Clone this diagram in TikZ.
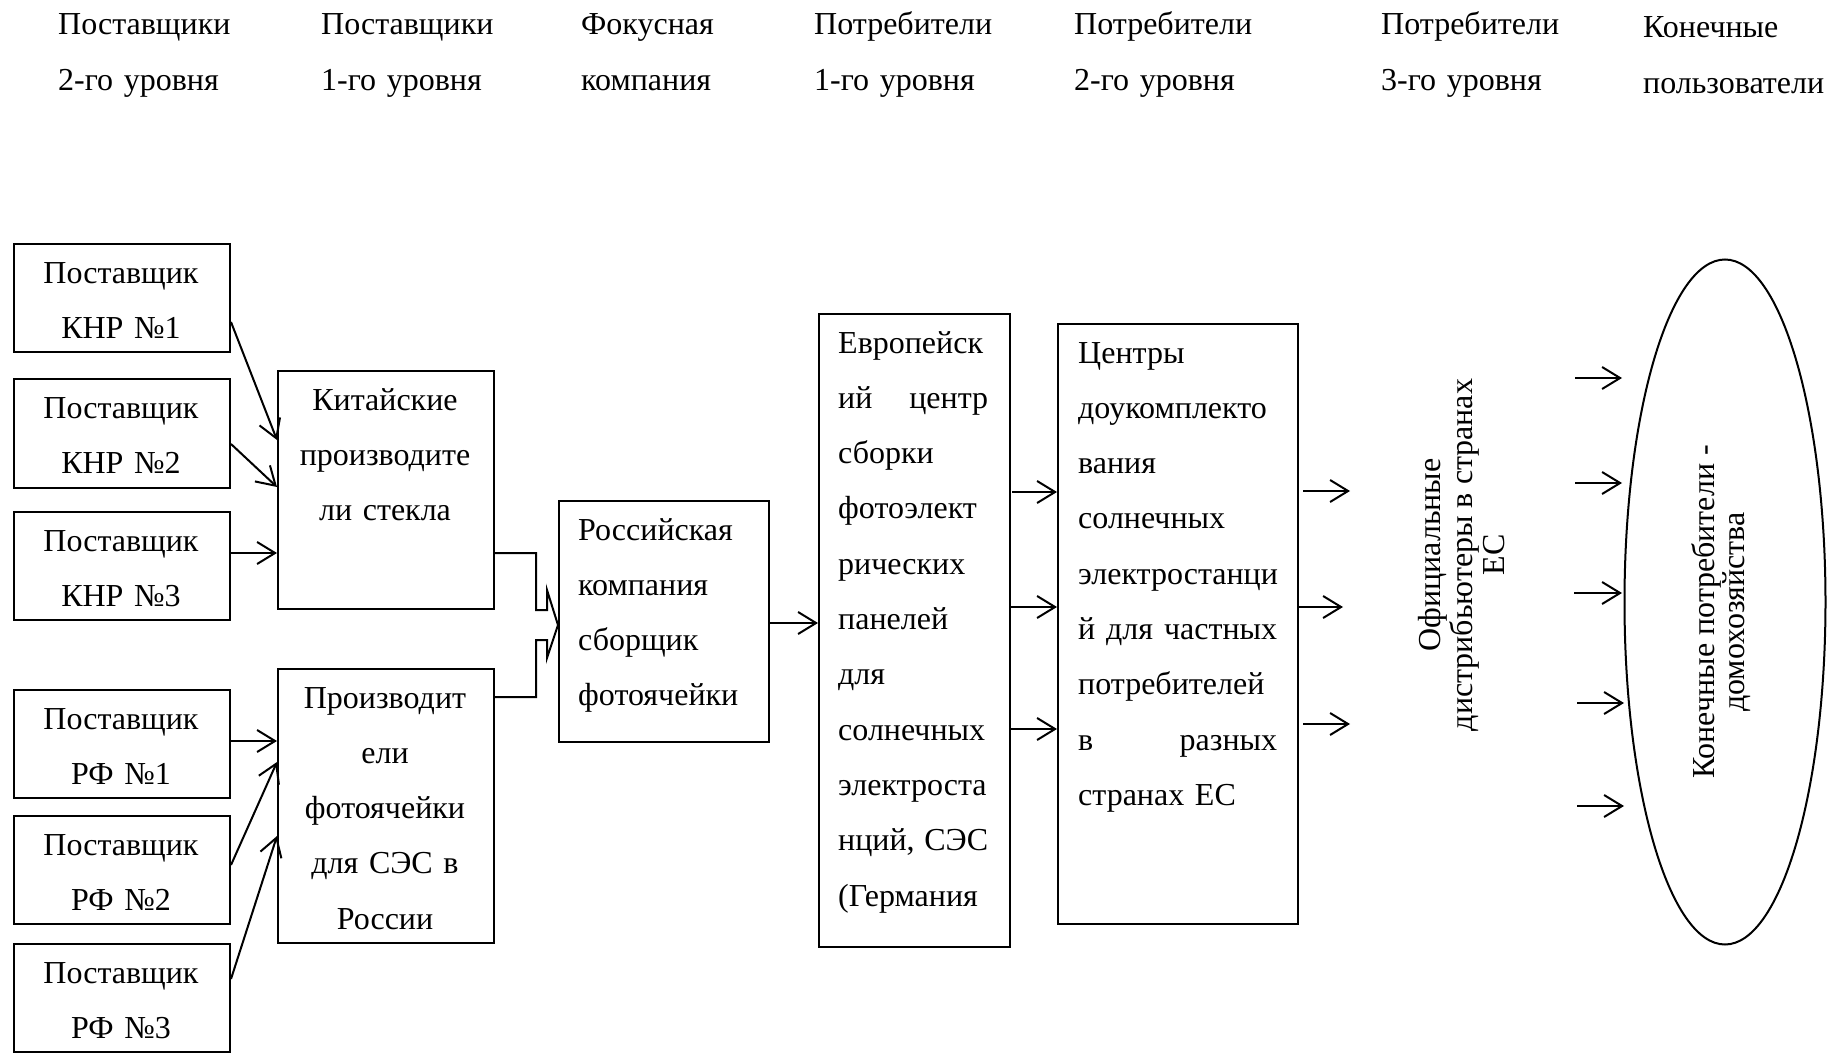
\documentclass[tikz,border=0pt]{standalone}
\usepackage{fontspec}
\setmainfont{Liberation Serif}
\usetikzlibrary{arrows.meta,shapes.geometric}
\newcommand\boxfnt{\fontsize{32}{55.3}\selectfont}
\newcommand\rotfnt{\fontsize{32}{32}\selectfont}
\newcommand\ellfnt{\fontsize{32}{30}\selectfont}
\tikzset{
  box/.style={draw, line width=2pt, inner sep=0pt, anchor=north west},
  txt/.style={inner sep=0pt, font=\boxfnt, anchor=base},
  ctxt/.style={txt, text width=216pt, align=center},
  hdr/.style={txt, anchor=base west, text width=240pt, align=left},
  rtxt/.style={inner sep=0pt, rotate=90, align=center},
  arr/.style={line width=2pt, -{Straight Barb[length=18pt,width=22pt]}},
  ln/.style={line width=2pt},
}
\begin{document}
\begin{tikzpicture}[x=1pt,y=-1pt]
\fill[white] (0,0) rectangle (1832,1057);
\useasboundingbox (0,0) rectangle (1832,1057);

% headers
\node[hdr] (h1) at (58,35) {Поставщики\\2-го уровня};
\node[hdr] (h2) at (321,35) {Поставщики\\1-го уровня};
\node[hdr] (h3) at (581,35) {Фокусная\\компания};
\node[hdr] (h4) at (814,35) {Потребители\\1-го уровня};
\node[hdr] (h5) at (1074,35) {Потребители\\2-го уровня};
\node[hdr] (h6) at (1381,35) {Потребители\\3-го уровня};
\node[hdr, text width=185pt] (h7) at (1643,38) {Конечные\\пользователи};

% supplier boxes
\node[box, minimum width=216pt, minimum height=108pt] (knr1) at (13,243) {};
\node[box, minimum width=216pt, minimum height=109pt] (knr2) at (13,378) {};
\node[box, minimum width=216pt, minimum height=108pt] (knr3) at (13,511) {};
\node[box, minimum width=216pt, minimum height=108pt] (rf1) at (13,689) {};
\node[box, minimum width=216pt, minimum height=108pt] (rf2) at (13,815) {};
\node[box, minimum width=216pt, minimum height=108pt] (rf3) at (13,943) {};
\node[ctxt] (knr1t) at (121,283) {Поставщик\\КНР №1};
\node[ctxt] (knr2t) at (121,418) {Поставщик\\КНР №2};
\node[ctxt] (knr3t) at (121,551) {Поставщик\\КНР №3};
\node[ctxt] (rf1t) at (121,729) {Поставщик\\РФ №1};
\node[ctxt] (rf2t) at (121,855) {Поставщик\\РФ №2};
\node[ctxt] (rf3t) at (121,983) {Поставщик\\РФ №3};

% level 1 suppliers
\node[box, minimum width=216pt, minimum height=238pt] (kit) at (277,370) {};
\node[ctxt] (kitt) at (385,410) {Китайские\\производите\\ли стекла};
\node[box, minimum width=216pt, minimum height=274pt] (proiz) at (277,668) {};
\node[ctxt] (proizt) at (385,708) {Производит\\ели\\фотоячейки\\для СЭС в\\России};

% focal company
\node[box, minimum width=210pt, minimum height=241pt] (ros) at (558,500) {};
\node[txt, anchor=base west, text width=180pt, align=left] (rost) at (578,540) {Российская\\компания\\сборщик\\фотоячейки};

% consumers 1
\node[box, minimum width=191pt, minimum height=633pt] (evro) at (818,313) {};
\node[txt, anchor=base west, text width=150pt, align=left] (evrot) at (838,353)
  {Европейск\\ий\hfill центр\\сборки\\фотоэлект\\рических\\панелей\\для\\солнечных\\электроста\\нций,\hfill СЭС\\(Германия};

% consumers 2
\node[box, minimum width=240pt, minimum height=600pt] (centry) at (1057,323) {};
\node[txt, anchor=base west, text width=199pt, align=left] (centryt) at (1078,363)
  {Центры\\доукомплекто\\вания\\солнечных\\электростанци\\й\hfill для\hfill частных\\потребителей\\в\hfill разных\\странах ЕС};

% consumers 3
\node[rtxt, font=\rotfnt] (dist) at (1462,555) {Официальные\\дистрибьютеры в странах\\ЕС};

% end users
\node[draw, ellipse, line width=2pt, inner sep=0pt, minimum width=201pt, minimum height=685pt] (endu) at (1725,602) {};
\node[rtxt, font=\ellfnt] (endt) at (1721,612) {Конечные потребители -\\домохозяйства};

% arrows suppliers -> level 1
\coordinate (a1) at (229,322); \coordinate (b1) at (277,440);
\coordinate (a2) at (229,444); \coordinate (b2) at (277,487);
\coordinate (a3) at (229,553);
\coordinate (a4) at (229,741);
\coordinate (a5) at (229,865); \coordinate (b5) at (277,762);
\coordinate (a6) at (229,979); \coordinate (b6) at (277,836);
\draw[arr] (knr1.east |- a1) -- (kit.west |- b1);
\draw[arr] (knr2.east |- a2) -- (kit.west |- b2);
\draw[arr] (knr3.east |- a3) -- (kit.west |- a3);
\draw[arr] (rf1.east |- a4) -- (proiz.west |- a4);
\draw[arr] (rf2.east |- a5) -- (proiz.west |- b5);
\draw[arr] (rf3.east |- a6) -- (proiz.west |- b6);

% merge arrow into focal company
\coordinate (m1) at (536,553);
\coordinate (m2) at (536,697);
\coordinate (mt) at (558,625);
\draw[ln, line join=miter] (kit.east |- m1) -- (m1) -- (536,610) -- (547,610) -- (547,590)
  -- (ros.west |- mt) -- (547,658) -- (547,640) -- (536,640) -- (m2) -- (proiz.east |- m2);

% focal -> consumers 1
\coordinate (r1) at (0,623);
\draw[arr] (ros.east |- r1) -- (evro.west |- r1);

% consumers 1 -> consumers 2
\coordinate (e1) at (1012,492);
\coordinate (e2) at (0,607);
\coordinate (e3) at (0,729);
\draw[arr] (e1) -- (centry.west |- e1);
\draw[arr] (evro.east |- e2) -- (centry.west |- e2);
\draw[arr] (evro.east |- e3) -- (centry.west |- e3);

% consumers 2 -> distributors
\coordinate (d1s) at (1303,491); \coordinate (d1e) at (1350,491);
\coordinate (d2e) at (1343,607);
\coordinate (d3s) at (1303,724); \coordinate (d3e) at (1350,724);
\draw[arr] (d1s) -- (d1e);
\draw[arr] (centry.east |- d2e) -- (d2e);
\draw[arr] (d3s) -- (d3e);

% distributors -> end users
\coordinate (u1s) at (1575,378); \coordinate (u1e) at (1622,378);
\coordinate (u2s) at (1575,483); \coordinate (u2e) at (1622,483);
\coordinate (u3s) at (1574,593); \coordinate (u3e) at (1622,593);
\coordinate (u4s) at (1577,703); \coordinate (u4e) at (1624,703);
\coordinate (u5s) at (1577,806); \coordinate (u5e) at (1624,806);
\draw[arr] (u1s) -- (u1e);
\draw[arr] (u2s) -- (u2e);
\draw[arr] (u3s) -- (u3e);
\draw[arr] (u4s) -- (u4e);
\draw[arr] (u5s) -- (u5e);
\end{tikzpicture}
\end{document}
